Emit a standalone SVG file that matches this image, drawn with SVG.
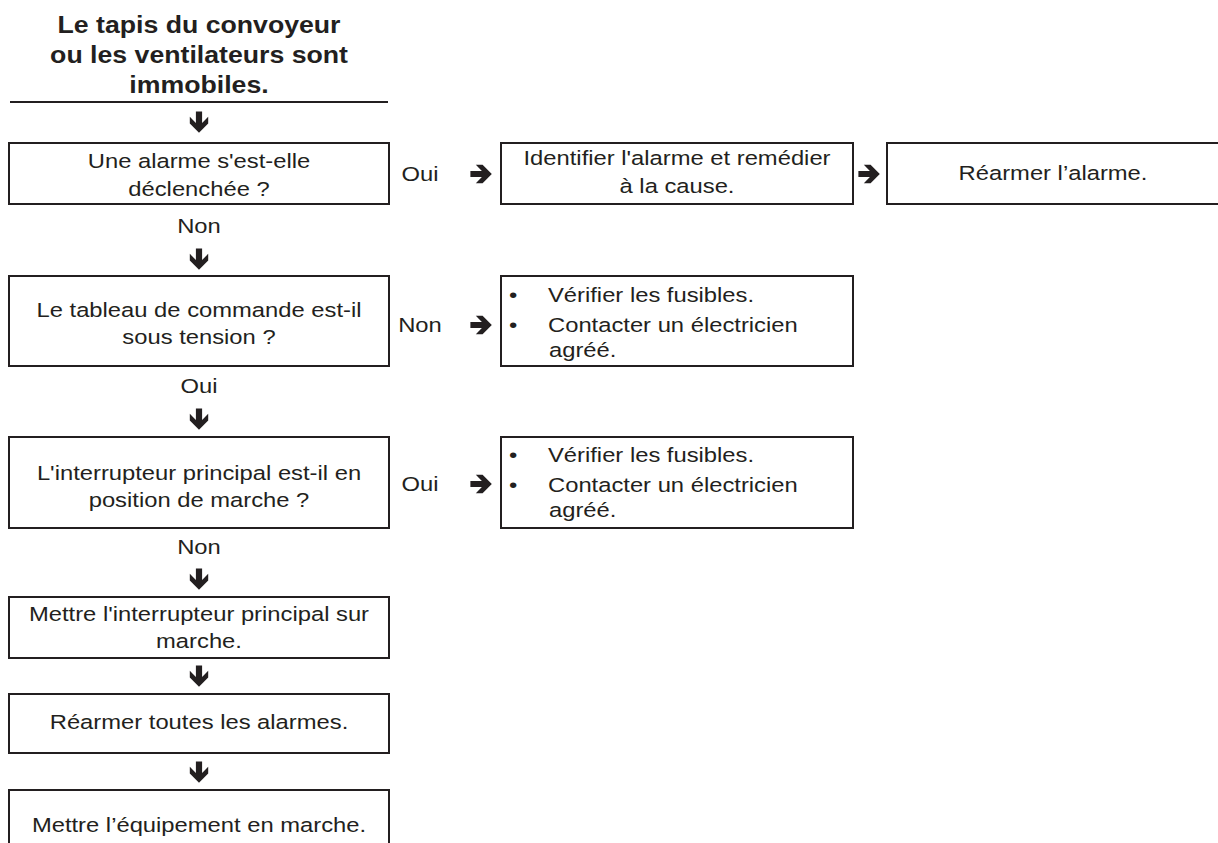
<svg xmlns="http://www.w3.org/2000/svg" xmlns:xlink="http://www.w3.org/1999/xlink" width="1218" height="843" viewBox="0 0 1218 843">
<style>
.box{fill:#fff;stroke:#231f20;stroke-width:2}
.t{font-family:"Liberation Sans",Arial,sans-serif;font-size:20.5px;fill:#231f20}
.c{text-anchor:middle}
.b{font-weight:bold;font-size:23px}
.arr{fill:#231f20}
</style>
<defs>
<path id="ar" d="M-10.6,-3.1 L0.9,-3.1 L-5.2,-9.2 L1.6,-9.2 L10.8,0 L1.6,9.2 L-5.2,9.2 L0.9,3.1 L-10.6,3.1 Z"/>
</defs>
<rect width="1218" height="843" fill="#fff"/>

<g id="title">
<text class="t b c" transform="translate(199,33) scale(1.16,1)">Le tapis du convoyeur</text>
<text class="t b c" transform="translate(199,63) scale(1.16,1)">ou les ventilateurs sont</text>
<text class="t b c" transform="translate(199,93) scale(1.16,1)">immobiles.</text>
<line x1="10" y1="102" x2="388" y2="102" stroke="#231f20" stroke-width="2"/>
</g>

<g id="q-alarme">
<rect class="box" x="9" y="143" width="380" height="61"/>
<text class="t c" transform="translate(199,168) scale(1.16,1)">Une alarme s'est-elle</text>
<text class="t c" transform="translate(199,196) scale(1.16,1)">déclenchée ?</text>
</g>

<g id="a-identifier">
<rect class="box" x="501" y="143" width="352" height="61"/>
<text class="t c" transform="translate(677,165) scale(1.16,1)">Identifier l'alarme et remédier</text>
<text class="t c" transform="translate(677,193) scale(1.16,1)">à la cause.</text>
</g>

<g id="a-rearmer">
<rect class="box" x="887" y="143" width="340" height="61"/>
<text class="t c" transform="translate(1053,180) scale(1.16,1)">Réarmer l’alarme.</text>
</g>

<g id="q-tension">
<rect class="box" x="9" y="276" width="380" height="90"/>
<text class="t c" transform="translate(199,317) scale(1.16,1)">Le tableau de commande est-il</text>
<text class="t c" transform="translate(199,344) scale(1.16,1)">sous tension ?</text>
</g>

<g id="a-fusibles-1">
<rect class="box" x="501" y="276" width="352" height="90"/>
<text class="t" transform="translate(509,302) scale(1.16,1)">•</text>
<text class="t" transform="translate(548,302) scale(1.16,1)">Vérifier les fusibles.</text>
<text class="t" transform="translate(509,332) scale(1.16,1)">•</text>
<text class="t" transform="translate(548,332) scale(1.16,1)">Contacter un électricien</text>
<text class="t" transform="translate(549,357) scale(1.16,1)">agréé.</text>
</g>

<g id="q-interrupteur">
<rect class="box" x="9" y="437" width="380" height="91"/>
<text class="t c" transform="translate(199,480) scale(1.16,1)">L'interrupteur principal est-il en</text>
<text class="t c" transform="translate(199,507) scale(1.16,1)">position de marche ?</text>
</g>

<g id="a-fusibles-2">
<rect class="box" x="501" y="437" width="352" height="91"/>
<text class="t" transform="translate(509,462) scale(1.16,1)">•</text>
<text class="t" transform="translate(548,462) scale(1.16,1)">Vérifier les fusibles.</text>
<text class="t" transform="translate(509,492) scale(1.16,1)">•</text>
<text class="t" transform="translate(548,492) scale(1.16,1)">Contacter un électricien</text>
<text class="t" transform="translate(549,517) scale(1.16,1)">agréé.</text>
</g>

<g id="s-mettre-marche">
<rect class="box" x="9" y="597" width="380" height="61"/>
<text class="t c" transform="translate(199,621) scale(1.16,1)">Mettre l'interrupteur principal sur</text>
<text class="t c" transform="translate(199,648) scale(1.16,1)">marche.</text>
</g>

<g id="s-rearmer-toutes">
<rect class="box" x="9" y="694" width="380" height="59"/>
<text class="t c" transform="translate(199,729) scale(1.16,1)">Réarmer toutes les alarmes.</text>
</g>

<g id="s-equipement">
<rect class="box" x="9" y="790" width="380" height="70"/>
<text class="t c" transform="translate(199,832) scale(1.16,1)">Mettre l’équipement en marche.</text>
</g>

<g id="connectors">
<use xlink:href="#ar" class="arr" transform="translate(199,122) rotate(90)"/>
<use xlink:href="#ar" class="arr" transform="translate(199,259) rotate(90)"/>
<use xlink:href="#ar" class="arr" transform="translate(199,419) rotate(90)"/>
<use xlink:href="#ar" class="arr" transform="translate(199,579) rotate(90)"/>
<use xlink:href="#ar" class="arr" transform="translate(199,676) rotate(90)"/>
<use xlink:href="#ar" class="arr" transform="translate(199,772) rotate(90)"/>
<use xlink:href="#ar" class="arr" transform="translate(481,174)"/>
<use xlink:href="#ar" class="arr" transform="translate(481,325)"/>
<use xlink:href="#ar" class="arr" transform="translate(481,484)"/>
<use xlink:href="#ar" class="arr" transform="translate(869,174)"/>
<text class="t c" transform="translate(199,233) scale(1.16,1)">Non</text>
<text class="t c" transform="translate(199,393) scale(1.16,1)">Oui</text>
<text class="t c" transform="translate(199,554) scale(1.16,1)">Non</text>
<text class="t c" transform="translate(420,181) scale(1.16,1)">Oui</text>
<text class="t c" transform="translate(420,332) scale(1.16,1)">Non</text>
<text class="t c" transform="translate(420,491) scale(1.16,1)">Oui</text>
</g>
</svg>
